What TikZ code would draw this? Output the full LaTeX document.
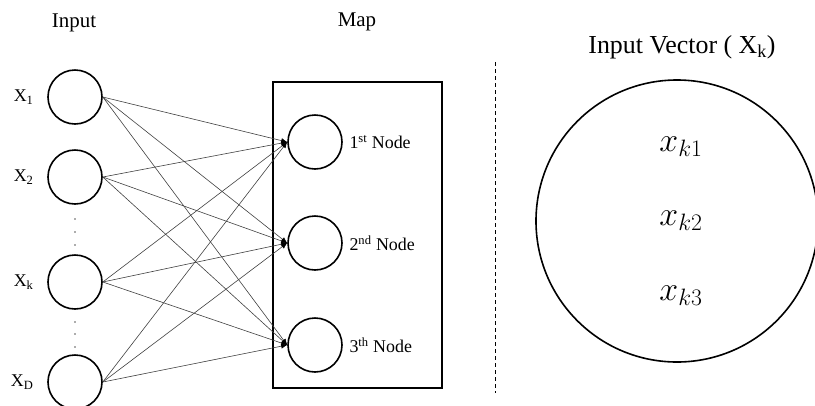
\RequirePackage{fix-cm}
\documentclass[tikz,border=0pt]{standalone}
\usepackage{fontspec}
\setmainfont{Liberation Serif}
\usetikzlibrary{arrows.meta}
\begin{document}
\begin{tikzpicture}[x=1bp,y=-1bp,
  neuron/.style={circle,draw,line width=1.6bp,minimum size=54bp,inner sep=0pt},
  link/.style={draw=black!75,line width=0.6bp,-{Latex[length=6bp,width=5bp,black]}},
  lbl/.style={font=\fontsize{18}{20}\selectfont},
  head/.style={font=\fontsize{21}{24}\selectfont},
  comp/.style={font=\fontsize{34}{36}\selectfont},
  vdot/.style={circle,fill=black!65,inner sep=0pt,minimum size=1.8bp}
]
\useasboundingbox (0,0) rectangle (815,405);

% column titles
\node[head] (tin) at (74,23) {Input};
\node[head] (tmap) at (357,22) {Map};

% input layer
\node[neuron] (x1) at (75,97) {};
\node[neuron] (x2) at (75,177) {};
\node[neuron] (xk) at (75,282) {};
\node[neuron] (xd) at (75,382) {};
\node[lbl,anchor=east] (lx1) at (37,97) {X\textsubscript{1}};
\node[lbl,anchor=east] (lx2) at (37,177) {X\textsubscript{2}};
\node[lbl,anchor=east] (lxk) at (37,282) {X\textsubscript{k}};
\node[lbl,anchor=east] (lxd) at (37,382) {X\textsubscript{D}};
\foreach \y [count=\i] in {219,232,245,322,334,347}
  \node[vdot] (d\i) at (75,\y) {};

% map box and its nodes
\node[draw,line width=1.6bp,minimum width=169bp,minimum height=306bp,inner sep=0pt] (box) at (357.5,235) {};
\node[neuron] (m1) at (315,142) {};
\node[neuron] (m2) at (315,243) {};
\node[neuron] (m3) at (315,345) {};
\node[lbl,anchor=west] (lm1) at (346,142) {1\textsuperscript{st} Node};
\node[lbl,anchor=west] (lm2) at (346,243) {2\textsuperscript{nd} Node};
\node[lbl,anchor=west] (lm3) at (346,345) {3\textsuperscript{th} Node};

% full connections
\foreach \s in {x1,x2,xk,xd}
  \foreach \t in {m1,m2,m3}
    \draw[link] (\s.east) -- (\t.west);

% separator
\coordinate (sa) at (495,62);
\coordinate (sb) at (495,393);
\draw[line width=0.8bp,dash pattern=on 4bp off 3bp] (sa) -- (sb);

% input vector
\node[font=\fontsize{26}{28}\selectfont] (tvec) at (682,47) {Input Vector ( X\textsubscript{k})};
\node[circle,draw,line width=1.6bp,minimum size=282bp,inner sep=0pt] (vec) at (677,221) {};
\node[comp] (v1) at (681,147) {$x_{k1}$};
\node[comp] (v2) at (681,221) {$x_{k2}$};
\node[comp] (v3) at (681,296) {$x_{k3}$};
\end{tikzpicture}
\end{document}
